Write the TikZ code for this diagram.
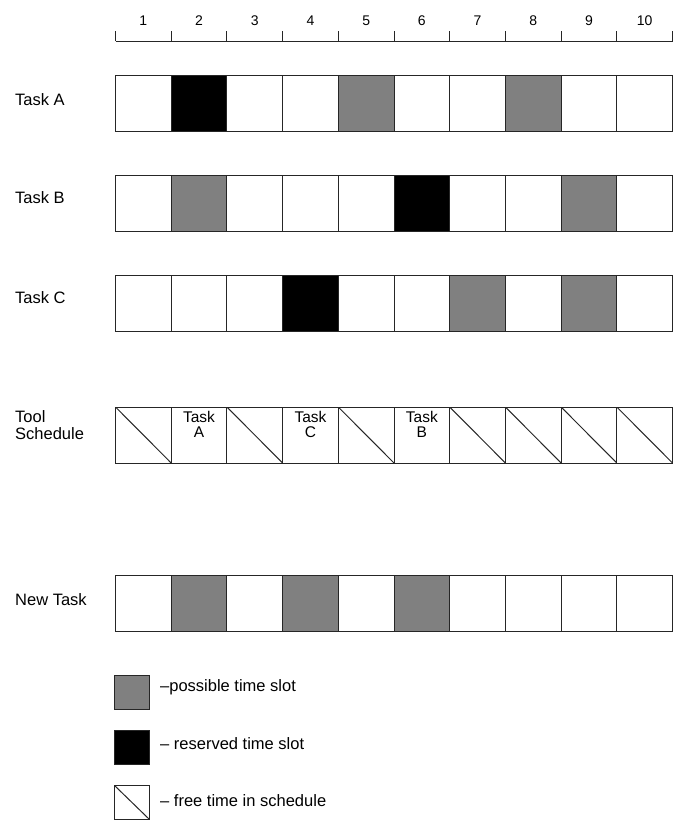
\documentclass[tikz,border=0pt]{standalone}
\usepackage{fontspec}
\setmainfont{Liberation Sans}
\usetikzlibrary{positioning}

\begin{document}
\begin{tikzpicture}[x=1pt,y=-1pt]
  \tikzset{
    cell/.style={draw=black!85, line width=1pt, minimum width=55.7pt,
      minimum height=56pt, inner sep=0pt, outer sep=0pt, anchor=north west},
    maybe/.style={cell, fill=black!50},
    taken/.style={cell, fill=black},
    free/.style={cell, path picture={
        \draw[black!85, line width=1pt] (path picture bounding box.north west)
          -- (path picture bounding box.south east);}},
    rowname/.style={anchor=west, inner sep=0pt, align=left,
      font=\fontsize{16.5}{17}\selectfont},
    tag/.style={anchor=north, inner sep=0pt, align=center,
      font=\fontsize{15.5}{15.5}\selectfont},
    num/.style={inner sep=0pt, font=\fontsize{14}{14}\selectfont},
    key/.style={minimum width=35pt, minimum height=34pt},
  }
  \useasboundingbox (0,0) rectangle (679,820);

  % time axis
  \coordinate (ax-l) at (115.5,41);
  \coordinate (ax-r) at (672.5,41);
  \draw[black!85, line width=1pt] (ax-l) -- (ax-r);
  \foreach \i in {0,...,10}
    \draw[black!85, line width=1pt] ([xshift=\i*55.7pt]ax-l) -- ++(0,-10);
  \foreach \i in {1,...,10}
    \node[num] (n\i) at (87.65+\i*55.7, 21) {\i};

  % task rows
  \node[rowname] (name-a) at (15,100) {Task A};
  \foreach [count=\i] \k in {cell,taken,cell,cell,maybe,cell,cell,maybe,cell,cell}
    \node[\k] (a-\i) at (59.8+\i*55.7, 75) {};

  \node[rowname] (name-b) at (15,198) {Task B};
  \foreach [count=\i] \k in {cell,maybe,cell,cell,cell,taken,cell,cell,maybe,cell}
    \node[\k] (b-\i) at (59.8+\i*55.7, 175) {};

  \node[rowname] (name-c) at (15,298) {Task C};
  \foreach [count=\i] \k in {cell,cell,cell,taken,cell,cell,maybe,cell,maybe,cell}
    \node[\k] (c-\i) at (59.8+\i*55.7, 275) {};

  % tool schedule
  \node[rowname] (name-t) at (15,425) {Tool\\Schedule};
  \foreach [count=\i] \k in {free,cell,free,cell,free,cell,free,free,free,free}
    \node[\k] (t-\i) at (59.8+\i*55.7, 407) {};
  \node[tag] (t-2-text) at ([yshift=-4pt]t-2.north) {Task\\A};
  \node[tag] (t-4-text) at ([yshift=-4pt]t-4.north) {Task\\C};
  \node[tag] (t-6-text) at ([yshift=-4pt]t-6.north) {Task\\B};

  % new task
  \node[rowname] (name-n) at (15,600) {New Task};
  \foreach [count=\i] \k in {cell,maybe,cell,maybe,cell,maybe,cell,cell,cell,cell}
    \node[\k] (n-\i) at (59.8+\i*55.7, 575) {};

  % legend
  \node[maybe, key] (key-1) at (114,675) {};
  \node[taken, key] (key-2) at (114,730) {};
  \node[free, key] (key-3) at (114,785) {};
  \node[rowname, anchor=base west] (key-1-text) at (160,691) {--possible time slot};
  \node[rowname, anchor=base west] (key-2-text) at (160,749) {-- reserved time slot};
  \node[rowname, anchor=base west] (key-3-text) at (160,806) {-- free time in schedule};
\end{tikzpicture}
\end{document}
